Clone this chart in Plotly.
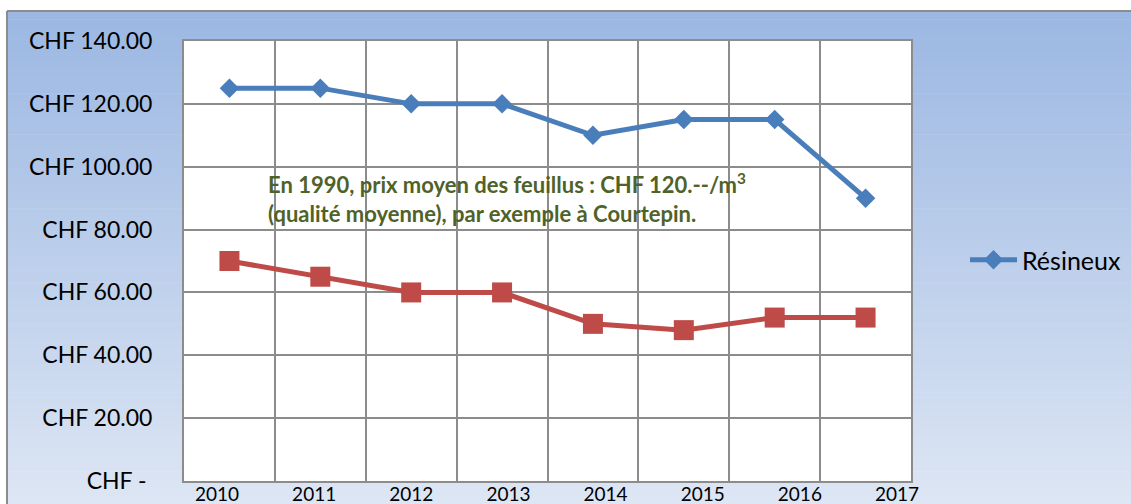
import plotly.graph_objects as go

# ---- data ----
years = ["2010", "2011", "2012", "2013", "2014", "2015", "2016", "2017"]
resineux = [125, 125, 120, 120, 110, 115, 115, 90]
feuillus = [70, 65, 60, 60, 50, 48, 52, 52]
y_ticks = [0, 20, 40, 60, 80, 100, 120, 140]
y_labels = ["CHF -\u00a0", "CHF 20.00", "CHF 40.00", "CHF 60.00",
            "CHF 80.00", "CHF 100.00", "CHF 120.00", "CHF 140.00"]
year_ticks = [2010, 2011, 2012, 2013, 2014, 2015, 2016, 2017]
note = ("En 1990, prix moyen des feuillus : CHF 120.--/m<sup>3</sup><br>"
        "(qualité moyenne), par exemple à Courtepin.")

W, H = 1131, 504
L, R, T, B = 184, 911, 41, 481
FONT = "Lato"

fig = go.Figure()
fig.add_trace(go.Scatter(
    x=years, y=resineux, name="Résineux", mode="lines+markers",
    line=dict(color="#4A7EBB", width=5),
    marker=dict(symbol="diamond", size=15, color="#4A7EBB"),
))
fig.add_trace(go.Scatter(
    x=years, y=feuillus, name="Feuillus", mode="lines+markers", showlegend=False,
    line=dict(color="#BE4B48", width=5),
    marker=dict(symbol="square", size=20, color="#BE4B48"),
))
fig.add_trace(go.Scatter(
    x=year_ticks, y=[None] * len(year_ticks), xaxis="x2", showlegend=False,
    hoverinfo="skip", mode="markers",
))

def px_to_py(py):
    return (B - py) / (B - T)

def px_to_px(px):
    return (px - L) / (R - L)

top_c = (155, 183, 226)
bot_c = (221, 230, 244)
n = 60
y0p, y1p = 11, H
shapes = []
for i in range(n):
    a = y0p + (y1p - y0p) * i / n
    b = y0p + (y1p - y0p) * (i + 1) / n + 0.6
    t = (i + 0.5) / n
    c = tuple(round(top_c[k] + (bot_c[k] - top_c[k]) * t) for k in range(3))
    shapes.append(dict(type="rect", xref="paper", yref="paper", layer="below",
                       x0=px_to_px(7), x1=px_to_px(W),
                       y0=px_to_py(min(b, H)), y1=px_to_py(a),
                       line=dict(width=0), fillcolor="rgb(%d,%d,%d)" % c))
shapes.append(dict(type="rect", xref="paper", yref="paper", layer="below",
                   x0=0, x1=1, y0=0, y1=1, line=dict(width=0), fillcolor="white"))
shapes.append(dict(type="line", xref="paper", yref="paper", layer="above",
                   x0=px_to_px(7), x1=px_to_px(W), y0=px_to_py(11), y1=px_to_py(11),
                   line=dict(color="#8C8C8C", width=2)))
shapes.append(dict(type="line", xref="paper", yref="paper", layer="above",
                   x0=px_to_px(7), x1=px_to_px(7), y0=px_to_py(11), y1=px_to_py(H),
                   line=dict(color="#8C8C8C", width=2)))

fig.update_layout(
    width=W, height=H, autosize=False,
    margin=dict(l=L, r=W - R, t=T, b=H - B, pad=0, autoexpand=False),
    paper_bgcolor="white", plot_bgcolor="white",
    font=dict(family=FONT, color="#000000"),
    shapes=shapes,
    xaxis=dict(type="category", range=[-0.5, 7.5], tickson="boundaries",
               showticklabels=False, ticks="", showgrid=True, automargin=False,
               gridcolor="#8C8C8C", gridwidth=1.5,
               showline=True, linecolor="#8C8C8C", linewidth=2, mirror=True,
               zeroline=False),
    xaxis2=dict(overlaying="x", anchor="y", side="bottom", type="linear",
                range=[2009.660, 2017.144], tickvals=year_ticks, automargin=False,
                ticktext=[str(v) for v in year_ticks], showgrid=False,
                zeroline=False, showline=False, ticks="",
                tickfont=dict(family=FONT, size=19, color="#000000")),
    yaxis=dict(range=[0, 140], tickvals=y_ticks, ticktext=y_labels, automargin=False,
               showgrid=True, gridcolor="#8C8C8C", gridwidth=1.5,
               zeroline=False, showline=True, linecolor="#8C8C8C", linewidth=2,
               mirror=True, ticks="", ticklabelstandoff=25,
               tickfont=dict(family=FONT, size=23, color="#000000")),
    legend=dict(x=px_to_px(965), y=px_to_py(260), xanchor="left", yanchor="middle",
                bgcolor="rgba(0,0,0,0)", font=dict(family=FONT, size=25, color="#000000"),
                itemwidth=47),
    showlegend=True,
    annotations=[dict(text=note, xref="paper", yref="paper",
                      x=px_to_px(266), y=px_to_py(198), xanchor="left", yanchor="middle",
                      align="left", showarrow=False,
                      font=dict(family=FONT, size=22, color="#4F6228", weight="bold"))],
)

fig.write_html(
    "out.html",
    config={"displayModeBar": False},
    post_script=("document.documentElement.style.margin='0';"
                 "document.body.style.margin='0';"),
)
